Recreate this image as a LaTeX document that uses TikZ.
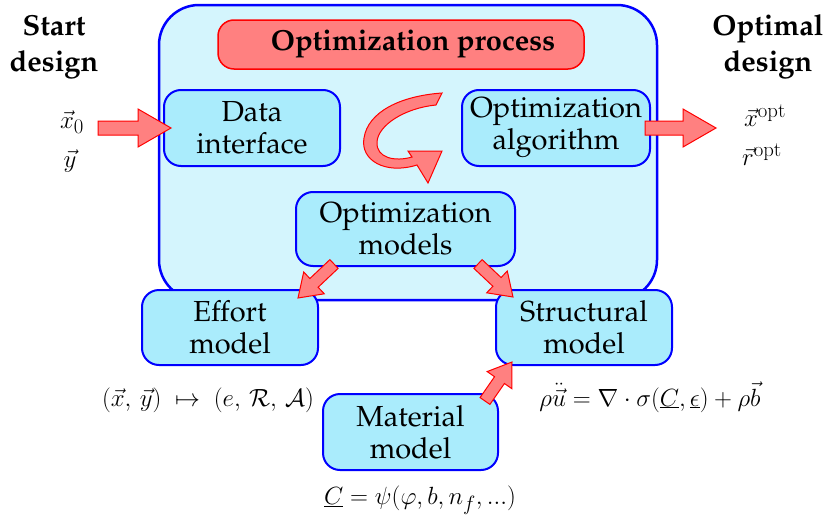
\documentclass[tikz,border=0pt]{standalone}
\usepackage[T1]{fontenc}
\renewcommand{\rmdefault}{ppl}
\usetikzlibrary{calc}
\DeclareMathSizes{26}{26}{21}{17}

\definecolor{outerfill}{RGB}{212,245,253}
\definecolor{innerfill}{RGB}{170,236,252}
\definecolor{arrowfill}{RGB}{255,128,128}

\newcommand{\diagfont}{\fontsize{29}{32}\selectfont}
\newcommand{\headfont}{\fontsize{29}{36}\selectfont\bfseries}
\newcommand{\eqfont}{\fontsize{26}{30}\selectfont}

% fat block arrow: #1 shaft half width, #2 head half width, #3 head length (pt), #4 from, #5 to
\newcommand{\blockarrow}[5]{%
  \draw[fatarr] let \p1=(#4), \p2=(#5),
      \n1={veclen(\x2-\x1,\y2-\y1)}, \n2={atan2(\y2-\y1,\x2-\x1)} in
    {[shift={(\p1)}, rotate=\n2]
      (0pt,#1pt) -- ({(\n1-#3)*1pt},#1pt) -- ({(\n1-#3)*1pt},#2pt) -- ({\n1*1pt},0pt)
      -- ({(\n1-#3)*1pt},-#2pt) -- ({(\n1-#3)*1pt},-#1pt) -- (0pt,-#1pt) -- cycle};
}

\tikzset{
  bigbox/.style={draw=blue, line width=2.5pt, fill=outerfill, rounded corners=40pt,
    inner sep=0pt},
  mbox/.style={draw=blue, line width=2pt, fill=innerfill, rounded corners=17pt,
    align=center, inner sep=0pt, font=\diagfont},
  procbox/.style={draw=red, line width=1.5pt, fill=arrowfill, rounded corners=16pt,
    inner sep=0pt, font=\diagfont\bfseries},
  fatarr/.style={draw=red, fill=arrowfill, line width=1pt, line join=miter},
  lbl/.style={font=\eqfont, align=center, inner sep=0pt},
}

\begin{document}
\begin{tikzpicture}[x=1pt, y=-1pt]
\useasboundingbox (0,0) rectangle (827,522);

% enclosing process area
\node[bigbox, minimum width=498pt, minimum height=295pt] (area) at (408,152.5) {};
\node[procbox, minimum width=366pt, minimum height=49pt] (proc) at (401,44.5)
  {\hspace*{24pt}Optimization process};

% modules
\node[mbox, minimum width=176pt, minimum height=76pt] (data) at (252,128)
  {Data\\interface};
\node[mbox, minimum width=188pt, minimum height=76pt] (algo) at (556,128)
  {Optimization\\algorithm};
\node[mbox, minimum width=219pt, minimum height=74pt] (models) at (405.5,229)
  {Optimization\\models};
\node[mbox, minimum width=176pt, minimum height=75pt] (effort) at (230,327.5)
  {Effort\\model};
\node[mbox, minimum width=176pt, minimum height=75pt] (struct) at (584,327.5)
  {Structural\\model};
\node[mbox, minimum width=175pt, minimum height=76pt] (material) at (410.5,432)
  {Material\\model};

% side labels
\node[lbl, font=\headfont] (start) at (54,47) {Start\\design};
\node[lbl, font=\headfont] (optimal) at (768,47) {Optimal\\design};
\node[lbl] (x0) at (72,122) {$\vec{x}_0$};
\node[lbl] (y0) at (70,161) {$\vec{y}$};
\node[lbl] (xopt) at (765,116) {$\vec{x}^{\mathrm{opt}}$};
\node[lbl] (ropt) at (762,155) {$\vec{r}^{\mathrm{opt}}$};

% model equations
\node[lbl] (effeq) at (208,400)
  {$(\vec{x},\,\vec{y})\;\mapsto\;(e,\,\mathcal{R},\,\mathcal{A})$};
\node[lbl] (structeq) at (650,397)
  {$\rho\ddot{\vec{u}}=\nabla\cdot\sigma(\underline{C},\underline{\epsilon})+\rho\vec{b}$};
\node[lbl] (mateq) at (420,500) {$\underline{C}=\psi(\varphi,b,n_f,...)$};

% arrow end points
\coordinate (in-start) at (98,128);
\coordinate (in-tip) at (171,128);
\coordinate (out-start) at (645,128);
\coordinate (out-tip) at (716,128);
\coordinate (me-start) at (334,264);
\coordinate (me-tip) at (298,298);
\coordinate (ms-start) at (478,264);
\coordinate (ms-tip) at (513,297);
\coordinate (mt-start) at (485,401);
\coordinate (mt-tip) at (512,362);

\blockarrow{7}{19}{33}{in-start}{in-tip}
\blockarrow{7}{19}{33}{out-start}{out-tip}
\blockarrow{6}{15}{22}{me-start}{me-tip}
\blockarrow{6}{15}{22}{ms-start}{ms-tip}
\blockarrow{6}{15}{22}{mt-start}{mt-tip}

% circular iteration arrow
\draw[fatarr] (442,93) -- (436,105)
  .. controls (405,108) and (378,125) .. (377,142)
  .. controls (376,158) and (395,162) .. (412,157)
  -- (408,151) -- (442,151) -- (428,183) -- (417,165)
  .. controls (385,175) and (360,160) .. (364,138)
  .. controls (368,112) and (400,96) .. (442,93) -- cycle;
\end{tikzpicture}
\end{document}
